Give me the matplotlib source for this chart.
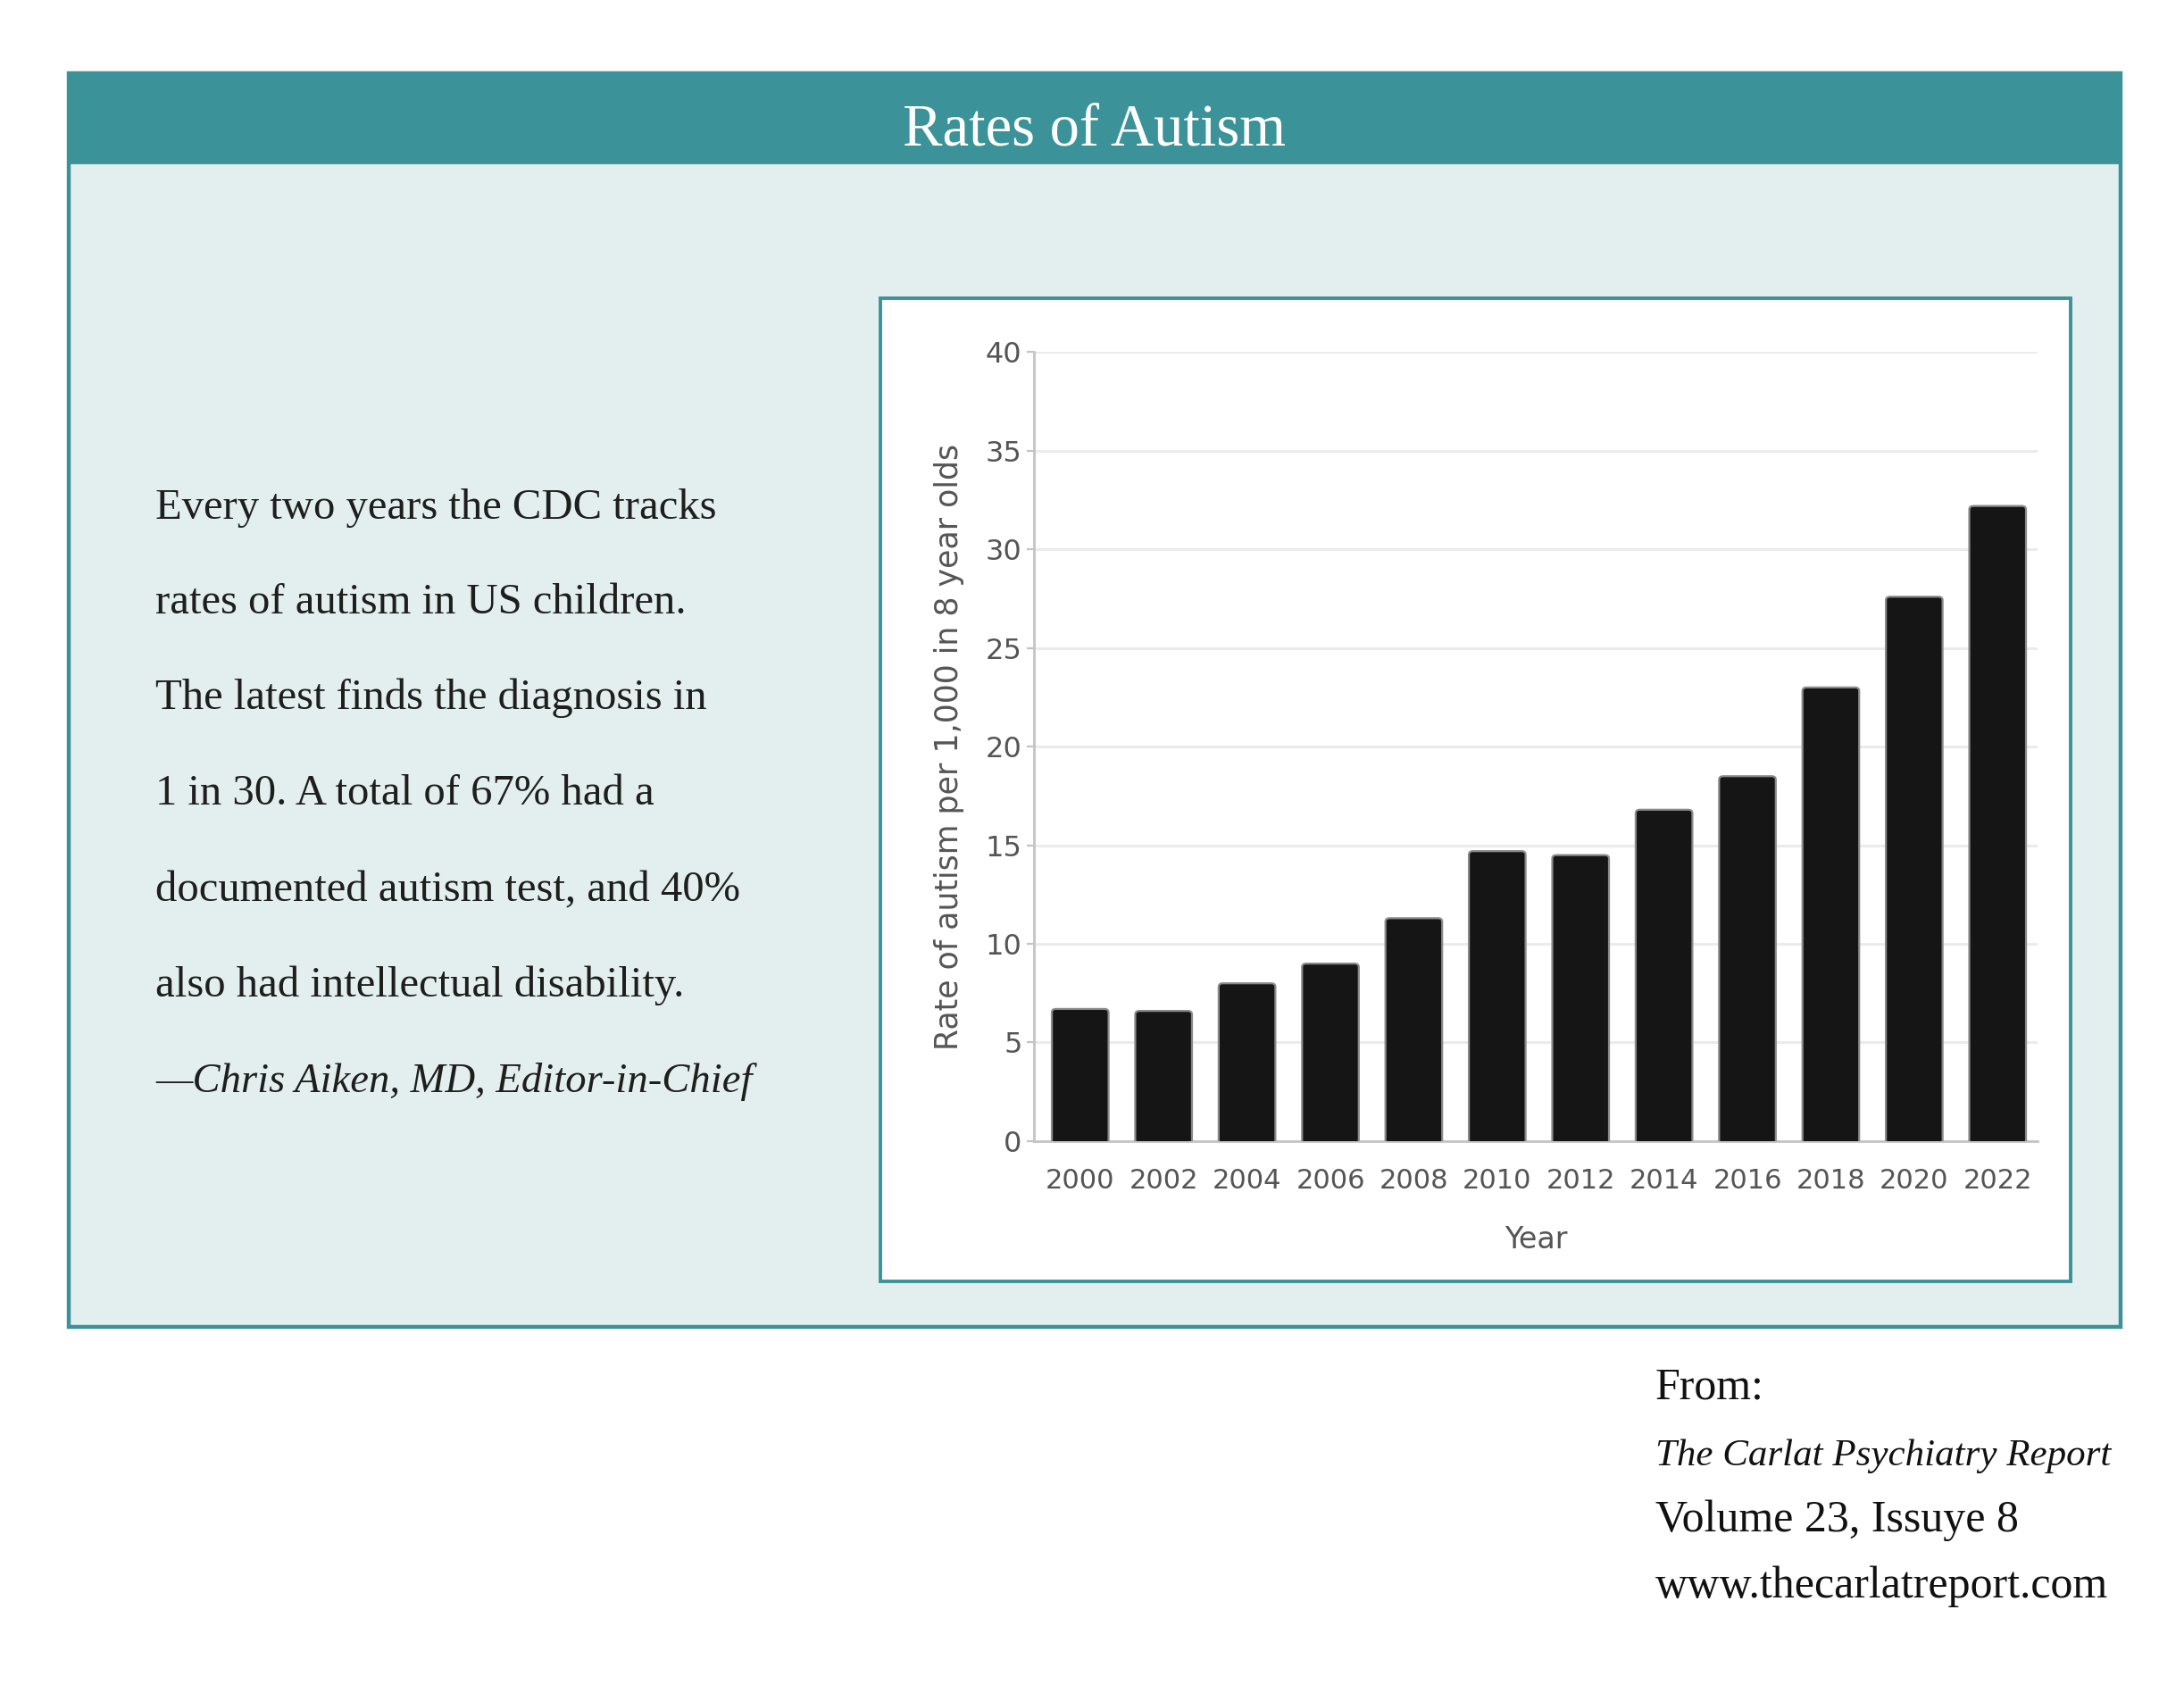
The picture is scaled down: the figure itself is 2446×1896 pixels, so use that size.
import matplotlib
matplotlib.use("Agg")
import matplotlib.pyplot as plt
from matplotlib.patches import Rectangle, FancyBboxPatch

# ---- data ----
years = ["2000", "2002", "2004", "2006", "2008", "2010", "2012",
         "2014", "2016", "2018", "2020", "2022"]
rates = [6.7, 6.6, 8.0, 9.0, 11.3, 14.7, 14.5, 16.8, 18.5, 23.0, 27.6, 32.2]
yticks = [0, 5, 10, 15, 20, 25, 30, 35, 40]

title = "Rates of Autism"
body_lines = [
    "Every two years the CDC tracks",
    "rates of autism in US children.",
    "The latest finds the diagnosis in",
    "1 in 30. A total of 67% had a",
    "documented autism test, and 40%",
    "also had intellectual disability.",
]
byline = "\u2014Chris Aiken, MD, Editor-in-Chief"
source_lines = [
    ("From:", "normal", 18),
    ("The Carlat Psychiatry Report", "italic", 15.5),
    ("Volume 23, Issuye 8", "normal", 18),
    ("www.thecarlatreport.com", "normal", 18),
]

TEAL = "#3b9399"
PANEL = "#e3eeee"
SERIF = ["Liberation Serif", "DejaVu Serif"]

fig = plt.figure(figsize=(12.23, 9.48), dpi=200)
fig.patch.set_facecolor("white")

# outer panel
fig.add_artist(Rectangle((0.0316, 0.216), 0.9394, 0.741, transform=fig.transFigure,
                         facecolor=PANEL, edgecolor=TEAL, linewidth=1.6, zorder=0))
# header band
fig.add_artist(Rectangle((0.0316, 0.904), 0.9394, 0.053, transform=fig.transFigure,
                         facecolor=TEAL, edgecolor=TEAL, linewidth=1.0, zorder=1))
fig.text(0.501, 0.9145, title, ha="center", va="baseline", color="white",
         fontsize=24, family=SERIF, zorder=2)

# inner chart frame
fig.add_artist(Rectangle((0.403, 0.243), 0.545, 0.581, transform=fig.transFigure,
                         facecolor="white", edgecolor=TEAL, linewidth=1.4, zorder=1))

# body text
ys = [0.6937, 0.6374, 0.5811, 0.5246, 0.4678, 0.4114]
for y, line in zip(ys, body_lines):
    fig.text(0.0711, y, line, ha="left", va="baseline", fontsize=17.5,
             family=SERIF, color="#1e1e1e", zorder=2)
fig.text(0.0711, 0.3548, byline, ha="left", va="baseline", fontsize=16.8,
         family=SERIF, style="italic", color="#1e1e1e", zorder=2)

# source text
sy = [0.1738, 0.1347, 0.0955, 0.0564]
for y, (line, st, fs) in zip(sy, source_lines):
    fig.text(0.7578, y, line, ha="left", va="baseline", fontsize=fs,
             family=SERIF, style=st, color="#111111")

# chart
ax = fig.add_axes([0.4736, 0.326, 0.4594, 0.466])
ax.set_facecolor("white")
ax.set_zorder(3)
x = list(range(len(years)))
bars = ax.bar(x, rates, width=0.68, color="#151515")
ax.set_xlim(-0.55, 11.48)
ax.set_ylim(0, 40)

for b in bars:
    b.set_visible(False)
    fb = FancyBboxPatch((b.get_x(), -1.0), b.get_width(), b.get_height() + 1.0,
                        boxstyle="round,pad=0,rounding_size=0.05",
                        mutation_aspect=3.5, facecolor="#151515",
                        edgecolor="#8a8a8a", linewidth=0.8, zorder=3)
    ax.add_patch(fb)

ax.set_yticks(yticks)
ax.set_xticks(x)
ax.set_xticklabels(years)
ax.grid(axis="y", color="#ebebeb", linewidth=1.1)
ax.set_axisbelow(True)
for s in ["top", "right"]:
    ax.spines[s].set_visible(False)
for s in ["left", "bottom"]:
    ax.spines[s].set_color("#c4c4c4")
    ax.spines[s].set_linewidth(1.0)
ax.tick_params(axis="x", length=0, pad=11, labelsize=11, labelcolor="#555555")
ax.tick_params(axis="y", length=3, width=0.8, color="#c4c4c4", pad=2,
               labelsize=11.5, labelcolor="#555555")
ax.set_ylabel("Rate of autism per 1,000 in 8 year olds", fontsize=12.5, color="#555555")
ax.yaxis.set_label_coords(-0.07, 0.5)
ax.set_xlabel("Year", fontsize=12, color="#555555")
ax.xaxis.set_label_coords(0.5, -0.107)

fig.savefig("out.png", dpi=200, facecolor="white")
